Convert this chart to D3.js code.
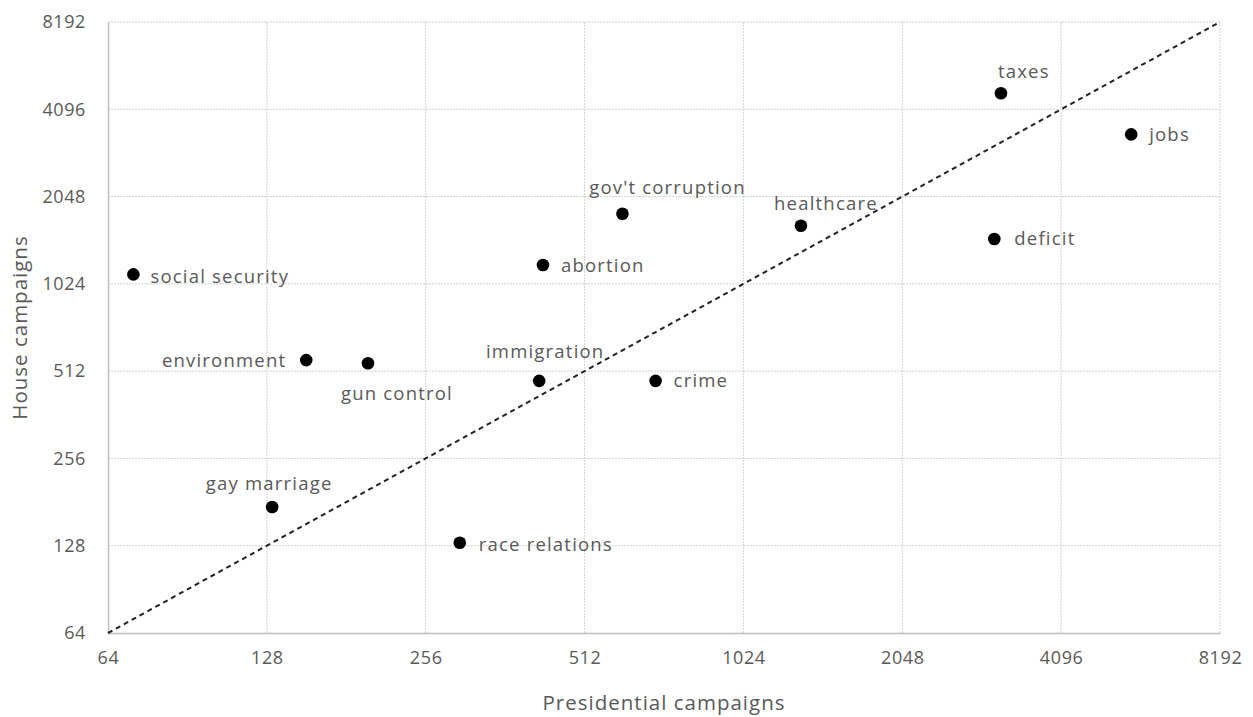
<!DOCTYPE html>
<html>
<head>
<meta charset="utf-8">
<script src="https://cdn.jsdelivr.net/npm/d3@7"></script>
<style>
    body { margin: 0; background: #fff; }
    text { font-family: 'Open Sans', sans-serif; fill: #595959; }
</style>
</head>
<body>
<div id="chart"></div>
<script>
    // data (log2 axes)
    var topics = ['taxes', 'jobs', 'deficit', 'healthcare', "gov't corruption", 'abortion',
                  'social security', 'environment', 'gun control', 'immigration', 'crime',
                  'gay marriage', 'race relations'];
    var presidential = [3150, 5560, 3060, 1316, 604, 427, 71.5, 152, 199, 420, 698, 131, 297];
    var house = [4650, 3355, 1462, 1624, 1787, 1189, 1104, 559, 545, 474, 474, 174, 131];
    var ticks = [64, 128, 256, 512, 1024, 2048, 4096, 8192];

    // where each label sits relative to its dot: [dx, dy, anchor]
    var labelPlace = {
        'taxes': [-3, -22, 'start'],
        'jobs': [18, 0, 'start'],
        'deficit': [20, 0, 'start'],
        'healthcare': [25, -22, 'middle'],
        "gov't corruption": [45, -26, 'middle'],
        'abortion': [18, 0, 'start'],
        'social security': [17, 2, 'start'],
        'environment': [-20, 0, 'end'],
        'gun control': [29, 30, 'middle'],
        'immigration': [6, -29, 'middle'],
        'crime': [18, 0, 'start'],
        'gay marriage': [-3, -24, 'middle'],
        'race relations': [19, 2, 'start']
    };

    var width = 1253, height = 717;
    var margin = {top: 22, right: 33, bottom: 84, left: 108};
    var w = width - margin.left - margin.right,
        h = height - margin.top - margin.bottom;

    var svg = d3.select('#chart').append('svg')
        .attr('width', width)
        .attr('height', height);

    var g = svg.append('g')
        .attr('transform', 'translate(' + margin.left + ',' + margin.top + ')');

    var x = d3.scaleLog().base(2).domain([64, 8192]).range([0, w]);
    var y = d3.scaleLog().base(2).domain([64, 8192]).range([h, 0]);

    // gridlines
    g.append('g')
        .selectAll('line.vg')
        .data(ticks.slice(1))
        .enter().append('line')
        .attr('x1', function(d){ return x(d); })
        .attr('x2', function(d){ return x(d); })
        .attr('y1', 0).attr('y2', h)
        .attr('stroke', '#d4d4d4')
        .attr('stroke-width', 1)
        .attr('stroke-dasharray', '2,1');

    g.append('g')
        .selectAll('line.hg')
        .data(ticks.slice(1))
        .enter().append('line')
        .attr('y1', function(d){ return y(d); })
        .attr('y2', function(d){ return y(d); })
        .attr('x1', 0).attr('x2', w)
        .attr('stroke', '#d4d4d4')
        .attr('stroke-width', 1)
        .attr('stroke-dasharray', '2,1');

    // axes
    var xAxis = g.append('g')
        .attr('transform', 'translate(0,' + h + ')')
        .call(d3.axisBottom(x).tickValues(ticks).tickFormat(d3.format('d')).tickSize(0).tickPadding(18));
    var yAxis = g.append('g')
        .call(d3.axisLeft(y).tickValues(ticks).tickFormat(d3.format('d')).tickSize(0).tickPadding(22));

    [xAxis, yAxis].forEach(function(a){
        a.select('.domain').attr('stroke', '#bfbfbf').attr('stroke-width', 1.5);
        a.selectAll('text')
            .style('font-family', "'Open Sans', sans-serif")
            .style('font-size', '18px')
            .style('letter-spacing', '0.6px')
            .attr('fill', '#595959');
    });

    // y = x reference line
    g.append('line')
        .attr('x1', x(64)).attr('y1', y(64))
        .attr('x2', x(8192)).attr('y2', y(8192))
        .attr('stroke', '#222')
        .attr('stroke-width', 2)
        .attr('stroke-dasharray', '5,4');

    var pts = topics.map(function(t, i){
        return {name: t, px: presidential[i], hy: house[i]};
    });

    g.selectAll('circle.pt')
        .data(pts)
        .enter().append('circle')
        .attr('cx', function(d){ return x(d.px); })
        .attr('cy', function(d){ return y(d.hy); })
        .attr('r', 6.3)
        .attr('fill', '#000');

    g.selectAll('text.lbl')
        .data(pts)
        .enter().append('text')
        .attr('x', function(d){ return x(d.px) + labelPlace[d.name][0]; })
        .attr('y', function(d){ return y(d.hy) + labelPlace[d.name][1]; })
        .attr('dy', '0.35em')
        .attr('text-anchor', function(d){ return labelPlace[d.name][2]; })
        .style('font-size', '18.5px')
        .style('letter-spacing', '1.2px')
        .text(function(d){ return d.name; });

    // axis titles
    svg.append('text')
        .attr('x', margin.left + w / 2)
        .attr('y', 703)
        .attr('dy', '0.35em')
        .attr('text-anchor', 'middle')
        .style('font-size', '20.5px')
        .style('letter-spacing', '1px')
        .text('Presidential campaigns');

    svg.append('text')
        .attr('transform', 'translate(20,' + (margin.top + h / 2) + ') rotate(-90)')
        .attr('dy', '0.35em')
        .attr('text-anchor', 'middle')
        .style('font-size', '20.5px')
        .style('letter-spacing', '1px')
        .text('House campaigns');
</script>
</body>
</html>
